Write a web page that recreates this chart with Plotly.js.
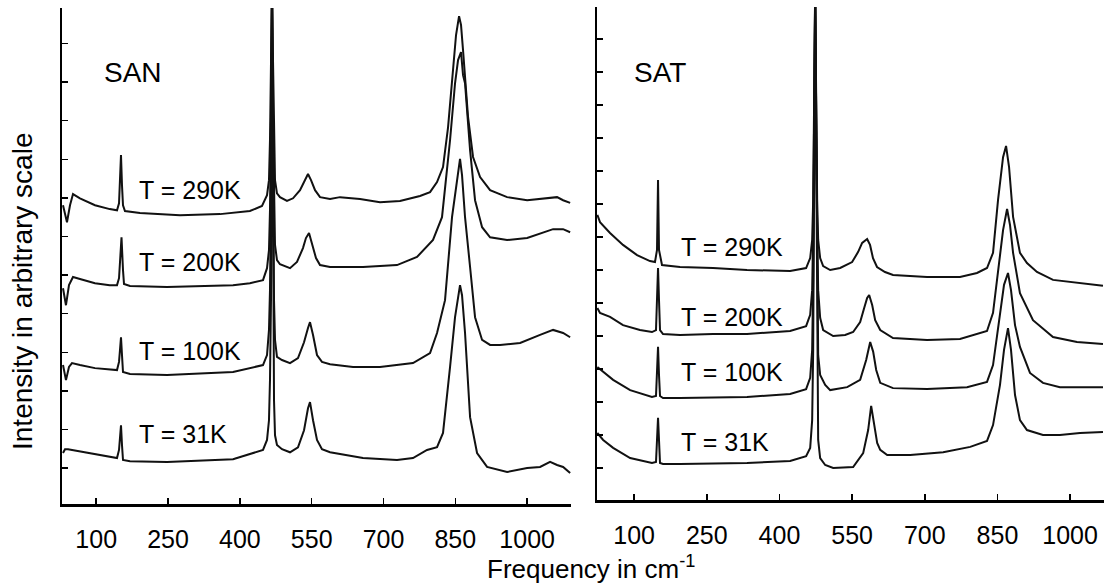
<!DOCTYPE html>
<html>
<head>
<meta charset="utf-8">
<script src="https://cdn.plot.ly/plotly-3.0.1.min.js"></script>
<style>
html,body{margin:0;padding:0;background:#fff;}
#chart{width:1104px;height:588px;}
</style>
</head>
<body>
<div id="chart"></div>
<script>
// ---------- data (frequency in cm^-1, intensity in arbitrary units) ----------
const panelNames = ["SAN", "SAT"];
const tempLabels = ["T = 290K", "T = 200K", "T = 100K", "T = 31K"];
const xTickVals = [100, 250, 400, 550, 700, 850, 1000];
const xTickText = ["100", "250", "400", "550", "700", "850", "1000"];

// SAN
const sanX290 = [30.6,38.9,45.2,51.5,66,97.4,128.2,143.4,147.6,149.6,151.7,153.8,155.9,160,191.4,275,358.5,421,446.2,456.7,460.8,462.9,465,467.1,469.2,471.3,473.4,477.5,483.8,498.4,511,525.6,536,542.3,548.6,557,567.4,588.3,609.2,650.9,692.7,734.4,776.2,797.2,811.8,824.3,834.8,845.2,851.5,857.8,861.9,866.1,876.6,887,901.7,922.6,958.1,1000,1041.6,1062.5,1075.1,1089.8];
const sanY290 = [6.81,6.37,6.81,7.10,6.99,6.81,6.71,6.68,6.86,7.33,8.11,7.33,6.81,6.66,6.61,6.55,6.58,6.66,6.79,7.07,7.46,8.5,10.57,12.5,10.57,8.5,7.46,7.12,7.02,6.92,6.99,7.20,7.46,7.62,7.46,7.20,7.02,6.97,7.02,6.97,6.89,6.92,7.05,7.15,7.41,7.80,8.83,10.39,11.22,11.71,11.48,10.83,9.09,8.06,7.54,7.20,7.02,6.94,6.99,7.02,6.94,6.87];

const sanX200 = [30.6,36.8,43.1,51.5,66,97.4,128.2,143.4,147.6,149.6,152.8,155.9,158,170.5,247.8,385.7,421,448.3,456.7,460.8,462.9,465,467.1,469.2,471.3,473.4,477.5,483.8,504.7,519.3,531.8,538,544.4,550.7,559,567.4,588.3,657.1,728.2,770,803.4,822.2,839,849.4,855.7,861.9,866.1,870.3,880.8,891.2,905.9,922.6,958.1,1000,1033.2,1054.2,1075.1,1089.8];
const sanY200 = [4.66,4.22,4.74,4.95,4.90,4.79,4.74,4.74,4.92,5.39,5.98,5.13,4.77,4.72,4.69,4.74,4.79,4.87,5.18,5.65,6.68,9.02,12.5,9.02,6.68,5.78,5.39,5.28,5.18,5.34,5.70,5.96,6.09,5.83,5.44,5.26,5.21,5.21,5.26,5.47,5.91,6.50,8.50,9.97,10.57,10.78,10.18,9.97,8.24,6.94,6.24,5.98,5.91,5.96,6.09,6.19,6.19,6.11];

const sanX100 = [30.6,36.8,43.1,49.4,66,97.4,143.4,147.6,149.6,151.7,153.8,155.9,170.5,247.8,385.7,448.3,456.7,460.8,462.9,465,467.1,469.2,471.3,473.4,477.5,488,504.7,521.4,534,542.3,546.5,552.8,561.1,571.5,588.3,636.3,692.7,761.6,797.2,811.8,828.5,843.1,851.5,859.8,864,870.3,880.8,891.2,905.9,922.6,943.5,985.3,1027,1054.2,1075.1,1089.8];
const sanY100 = [2.67,2.28,2.62,2.72,2.67,2.59,2.54,2.75,3.06,3.39,2.93,2.49,2.44,2.41,2.49,2.67,2.93,3.58,4.61,7.20,12.5,7.20,4.35,3.32,2.88,2.80,2.72,2.85,3.26,3.63,3.78,3.45,2.93,2.75,2.69,2.62,2.62,2.72,2.98,3.50,4.35,6.50,7.33,8.01,7.59,6.50,5.21,3.91,3.32,3.19,3.19,3.24,3.45,3.58,3.50,3.39];

const sanX31 = [30.6,34.8,41,49.4,80.7,143.4,147.6,149.6,151.7,153.8,155.9,170.5,247.8,385.7,448.3,456.7,460.8,462.9,465,467.1,469.2,471.3,473.4,477.5,488,504.7,521.4,534,542.3,546.5,552.8,561.1,571.5,588.3,657.1,728.2,761.6,790.9,811.8,824.3,839,849.4,859.8,864,870.3,880.8,895.4,916.3,958.1,1000,1027,1047.9,1062.5,1075.1,1089.8];
const sanY31 = [0.39,0.49,0.49,0.47,0.39,0.26,0.47,0.78,1.11,0.60,0.21,0.18,0.16,0.23,0.47,0.73,1.24,2.28,4.35,12.5,4.35,1.76,0.85,0.60,0.49,0.41,0.54,0.98,1.55,1.71,1.24,0.73,0.49,0.41,0.26,0.21,0.26,0.47,0.54,0.91,2.62,3.91,4.74,4.48,3.50,1.32,0.39,0.03,-0.10,0,0.03,0.16,0.08,0.03,-0.13];

// SAT
const satX290 = [24,29.5,50.2,77,106,132.7,143,147.2,149.3,151.3,157.5,194.7,262.8,333,422,455,463.4,467.5,469.6,473.7,477.8,479.9,484,490.2,504.7,525.3,550,562.5,570.7,581,587,593.1,601.4,617.9,634.4,704.6,772.7,807.8,828.5,840.9,851.2,861.6,867.8,874,882.3,896.5,911,931.6,964.7,1014.2,1067.9];
const satY290 = [7.67,7.45,7.12,6.76,6.45,6.27,6.24,6.61,8.73,6.61,6.15,6.09,6.06,6.00,5.97,6.06,6.36,6.91,8.12,14.5,8.12,6.91,6.36,6.12,6.00,6.06,6.24,6.55,6.82,6.94,6.76,6.36,6.09,5.94,5.85,5.79,5.79,5.91,6.06,6.52,8.12,9.42,9.76,9.12,7.61,6.52,6.21,5.94,5.70,5.61,5.52];

const satX200 = [24,29.5,50.2,77,112,136.8,145.1,147.2,149.3,151.3,153.4,159.6,194.7,262.8,333,422,455,463.4,467.5,469.6,473.7,477.8,479.9,484,490.2,510.9,535.6,552.1,566.6,574.9,581,585.2,591.4,597.6,608,634.4,704.6,772.7,828.5,840.9,851.2,861.6,869.9,876,882.3,896.5,923.4,964.7,1014.2,1067.9];
const satY200 = [4.85,4.70,4.58,4.33,4.18,4.12,4.18,5.09,6.06,5.09,4.18,4.06,4.03,4.06,4.06,4.15,4.30,4.64,5.39,7.21,14.5,7.21,5.39,4.55,4.18,4.00,4.03,4.12,4.42,4.85,5.15,5.24,4.94,4.48,4.18,3.94,3.88,3.91,4.15,4.70,6.00,7.21,7.85,7.36,6.52,5.30,4.48,3.97,3.82,3.76];

const satX100 = [24,36,56.6,91.7,136.8,145.1,147.2,149.3,151.3,153.4,159.6,194.7,333,422,455,463.4,467.5,469.6,473.7,477.8,479.9,484,494.4,504.7,539.8,566.6,579,587.3,593.5,599.7,608,634.4,704.6,787.2,828.5,840.9,855.3,863.6,871.8,878,886.3,896.5,917.2,944,979,1067.9];
const satY100 = [3.06,2.91,2.67,2.36,2.15,2.18,2.82,3.67,2.82,2.18,2.12,2.12,2.15,2.24,2.39,2.73,3.58,5.70,14.5,5.70,3.42,2.82,2.52,2.36,2.45,2.67,3.27,3.82,3.52,2.97,2.58,2.42,2.39,2.45,2.61,3.12,4.70,5.55,5.91,5.39,4.33,3.67,2.88,2.58,2.45,2.45];

const satX31 = [24,36,56.6,91.7,136.8,145.1,147.2,149.3,151.3,153.4,159.6,194.7,333,422,455,463.4,467.5,469.6,473.7,477.8,479.9,484,494.4,510.9,552.1,572.8,583.1,589.3,595.5,601.7,608,622.4,669.9,738,793.8,828.5,840.9,855.3,863.6,871.8,878,886.3,896.5,911,944,979,1020.5,1067.9];
const satY31 = [1.06,0.85,0.61,0.30,0.15,0.18,0.85,1.52,0.85,0.15,0.12,0.12,0.15,0.21,0.36,0.61,1.45,3.58,14.5,3.58,0.85,0.30,0.09,0,0.03,0.45,1.15,1.88,1.30,0.76,0.55,0.39,0.39,0.48,0.64,0.82,1.30,2.52,3.58,4.24,3.58,2.21,1.45,1.15,1.00,1.00,1.06,1.09];

// ---------- chart ----------
const W = 1104, H = 588;
const px = v => v / W;
const py = v => 1 - v / H;
const FONT = "Liberation Sans, Arial, Helvetica, sans-serif";
const lineStyle = {color: "#111", width: 2};

function tr(x, y, xa, ya) {
  return {x: x, y: y, xaxis: xa, yaxis: ya, type: "scatter", mode: "lines",
          line: lineStyle, hoverinfo: "skip", showlegend: false};
}

const data = [
  tr(sanX290, sanY290, "x", "y"),
  tr(sanX200, sanY200, "x", "y"),
  tr(sanX100, sanY100, "x", "y"),
  tr(sanX31, sanY31, "x", "y"),
  tr(satX290, satY290, "x2", "y2"),
  tr(satX200, satY200, "x2", "y2"),
  tr(satX100, satY100, "x2", "y2"),
  tr(satX31, satY31, "x2", "y2")
];

function xAxis(domain, range, anchor) {
  return {
    domain: domain, range: range, anchor: anchor,
    showline: true, linecolor: "#000", linewidth: 2.5,
    showgrid: false, zeroline: false,
    tickmode: "array", tickvals: xTickVals, ticktext: xTickText,
    ticks: "inside", ticklen: 6, tickwidth: 1.5, tickcolor: "#000",
    ticklabelstandoff: 11,
    tickfont: {family: FONT, size: 25, color: "#000"},
    fixedrange: true
  };
}
function yAxis(domain, range, anchor) {
  return {
    domain: domain, range: range, anchor: anchor,
    showline: true, linecolor: "#000", linewidth: 2.5,
    showgrid: false, zeroline: false,
    tickmode: "linear", tick0: 0, dtick: 1,
    ticks: "inside", ticklen: 6, tickwidth: 1.5, tickcolor: "#000",
    showticklabels: false, fixedrange: true
  };
}

function lab(text, x, y, anchor, size) {
  return {text: text, xref: "paper", yref: "paper", x: px(x), y: py(y),
          xanchor: anchor || "left", yanchor: "middle", showarrow: false,
          font: {family: FONT, size: size || 25, color: "#000"}};
}

const annotations = [
  lab(panelNames[0], 102, 73, "left", 28),
  lab(panelNames[1], 632, 72, "left", 28),
  lab(tempLabels[0], 137, 190), lab(tempLabels[1], 137, 262),
  lab(tempLabels[2], 137, 351), lab(tempLabels[3], 137, 434),
  lab(tempLabels[0], 679, 247), lab(tempLabels[1], 679, 317),
  lab(tempLabels[2], 679, 372), lab(tempLabels[3], 679, 442),
  Object.assign(lab("Intensity in arbitrary scale", 22, 292, "center", 28), {textangle: -90}),
  lab("Frequency in cm<sup>-1</sup>", 591, 567, "center", 26)
];

const layout = {
  width: W, height: H,
  margin: {l: 0, r: 0, t: 0, b: 0},
  paper_bgcolor: "#fff", plot_bgcolor: "rgba(0,0,0,0)",
  showlegend: false,
  xaxis: xAxis([62 / W, 571 / W], [28.5, 1091.6], "y"),
  yaxis: yAxis([1 - 504 / H, 1 - 8 / H], [-0.93, 11.92], "x"),
  xaxis2: xAxis([597 / W, 1], [23.3, 1070], "y2"),
  yaxis2: yAxis([1 - 500 / H, 1 - 7 / H], [-0.97, 13.97], "x2"),
  annotations: annotations
};

Plotly.newPlot("chart", data, layout, {staticPlot: true, displayModeBar: false});
</script>
</body>
</html>
